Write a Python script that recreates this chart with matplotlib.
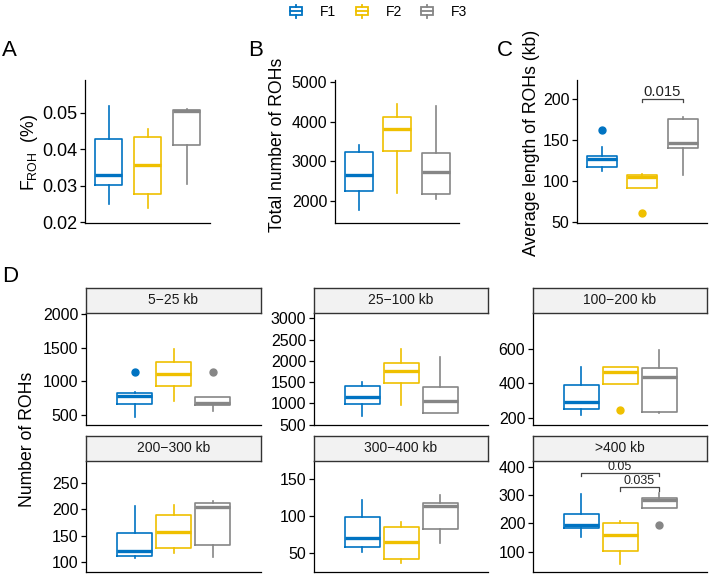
import matplotlib
matplotlib.use("Agg")
import matplotlib.pyplot as plt
from matplotlib.patches import Rectangle
from matplotlib.lines import Line2D
from matplotlib.legend_handler import HandlerBase

plt.rcParams['font.family'] = ['Liberation Sans', 'DejaVu Sans']
plt.rcParams['mathtext.fontset'] = 'custom'
plt.rcParams['mathtext.rm'] = 'Liberation Sans'
plt.rcParams['mathtext.it'] = 'Liberation Sans:italic'

# ---------------- data ----------------
groups = ["F1", "F2", "F3"]
colors = ["#0073C2", "#EFC000", "#868686"]

# five-number summaries per group: [whisker low, Q1, median, Q3, whisker high]
froh = [[0.0249, 0.0302, 0.0330, 0.0428, 0.0519],
        [0.0240, 0.0278, 0.0358, 0.0433, 0.0456],
        [0.0306, 0.0413, 0.0506, 0.0509, 0.0511]]
froh_out = [[], [], []]

total_roh = [[1770, 2250, 2650, 3230, 3405],
             [2200, 3260, 3830, 4134, 4450],
             [2045, 2170, 2730, 3220, 4400]]
total_out = [[], [], []]

avg_len = [[112, 117, 127, 130.5, 142],
           [92, 92, 105.3, 107, 108.5],
           [108, 140.5, 146, 175.5, 178.7]]
avg_out = [[162], [61], []]
avg_sig = [(1, 2, 200, "0.015")]

bins = ["5\u221225 kb", "25\u2212100 kb", "100\u2212200 kb",
        "200\u2212300 kb", "300\u2212400 kb", ">400 kb"]
n_5_25 = [[475, 660, 775, 830, 845],
          [700, 930, 1110, 1280, 1480],
          [560, 650, 670, 765, 765]]
out_5_25 = [[1140], [], [1135]]
n_25_100 = [[710, 990, 1150, 1397, 1500],
            [965, 1470, 1750, 1953, 2275],
            [780, 780, 1063, 1380, 2094]]
out_25_100 = [[], [], []]
n_100_200 = [[217, 254, 293, 390, 496],
             [396, 396, 468, 493, 495],
             [228, 237, 435, 490, 594]]
out_100_200 = [[], [248], []]
n_200_300 = [[107.5, 112, 122, 154.5, 206],
             [117, 127.5, 157.5, 189, 208],
             [111, 133.5, 204, 212.5, 216]]
out_200_300 = [[], [], []]
n_300_400 = [[52, 59, 70, 99, 121.5],
             [36.5, 43, 64.8, 86, 92.5],
             [63.4, 83, 113.4, 117, 128]]
out_300_400 = [[], [], []]
n_400 = [[153, 182, 194, 232, 302],
         [55.5, 103.5, 159, 200, 209],
         [253, 253, 284, 290, 308]]
out_400 = [[], [], [194]]
n_400_sig = [(0, 2, 379, "0.05"), (1, 2, 327, "0.035")]

# ---------------- layout ----------------
W, H = 709, 574
fig = plt.figure(figsize=(W / 100, H / 100), dpi=100)


def add_ax(l, t, r, b):
    return fig.add_axes([l / W, 1 - b / H, (r - l) / W, (b - t) / H])


def style(ax, ylim, yticks, ticklabels, fs):
    ax.set_ylim(*ylim)
    ax.set_yticks(yticks)
    ax.set_yticklabels(ticklabels, fontsize=fs, color="black")
    ax.set_xticks([])
    for s in ["top", "right"]:
        ax.spines[s].set_visible(False)
    for s in ["left", "bottom"]:
        ax.spines[s].set_color("black")
        ax.spines[s].set_linewidth(0.9)
    ax.tick_params(axis="y", length=3.5, width=0.9, pad=2, color="black")
    ax.patch.set_alpha(0)


def draw_boxes(ax, stats, outs, wpx, spacing_px, boxw_px):
    half = (wpx / 2) / spacing_px
    ax.set_xlim(2 - half, 2 + half)
    bw = boxw_px / spacing_px
    for i, (st, fl, c) in enumerate(zip(stats, outs, colors)):
        d = dict(whislo=st[0], q1=st[1], med=st[2], q3=st[3], whishi=st[4],
                 fliers=fl)
        ax.bxp([d], positions=[i + 1], widths=bw, showcaps=False,
               boxprops=dict(color=c, linewidth=1.2),
               whiskerprops=dict(color=c, linewidth=1.2),
               medianprops=dict(color=c, linewidth=2.4, solid_capstyle="butt"),
               flierprops=dict(marker="o", markerfacecolor=c,
                               markeredgecolor=c, markersize=5))


def draw_sig(ax, sigs, drop, fs):
    for a, b, y, lab in sigs:
        x1, x2 = a + 1, b + 1
        ax.plot([x1, x1, x2, x2], [y - drop, y, y, y - drop],
                color="#444444", lw=0.9, clip_on=False)
        ax.text((x1 + x2) / 2, y, lab, ha="center", va="bottom",
                fontsize=fs, color="#222222")


# --- panel A
axA = add_ax(85, 80, 210, 223)
draw_boxes(axA, froh, froh_out, 125, 39, 27)
style(axA, (0.0198, 0.0590), [0.02, 0.03, 0.04, 0.05],
      ["0.02", "0.03", "0.04", "0.05"], 13)
fig.text(30 / W, 1 - 152 / H, r"F$_{\mathregular{ROH}}$  (%)", rotation=90,
         ha="center", va="center", fontsize=12.7)

# --- panel B
axB = add_ax(335, 80, 459, 223)
draw_boxes(axB, total_roh, total_out, 124, 38.5, 28)
style(axB, (1440, 5060), [2000, 3000, 4000, 5000],
      ["2000", "3000", "4000", "5000"], 11.5)
fig.text(277 / W, 1 - 145 / H, "Total number of ROHs", rotation=90,
         ha="center", va="center", fontsize=12.7)

# --- panel C
axC = add_ax(577, 80, 707, 223)
draw_boxes(axC, avg_len, avg_out, 130, 40.5, 30)
style(axC, (48.8, 223.5), [50, 100, 150, 200], ["50", "100", "150", "200"], 11.5)
draw_sig(axC, avg_sig, 3, 10.7)
fig.text(532 / W, 1 - 143 / H, "Average length of ROHs (kb)", rotation=90,
         ha="center", va="center", fontsize=12.7)

# --- panel D
cols = [(86, 261), (314, 488), (533, 707)]
rows = [(313, 425), (461, 572)]
d_stats = [n_5_25, n_25_100, n_100_200, n_200_300, n_300_400, n_400]
d_outs = [out_5_25, out_25_100, out_100_200, out_200_300, out_300_400, out_400]
d_ylim = [(350, 2015), (490, 3125), (159, 809), (82, 291), (25, 174), (28, 420)]
d_ticks = [[500, 1000, 1500, 2000], [500, 1000, 1500, 2000, 2500, 3000],
           [200, 400, 600], [100, 150, 200, 250], [50, 100, 150],
           [100, 200, 300, 400]]
for k in range(6):
    r, c = divmod(k, 3)
    l, rr = cols[c]
    t, b = rows[r]
    ax = add_ax(l, t, rr, b)
    draw_boxes(ax, d_stats[k], d_outs[k], rr - l, 39, 35)
    style(ax, d_ylim[k], d_ticks[k], [str(v) for v in d_ticks[k]], 11.5)
    if k == 5:
        draw_sig(ax, n_400_sig, 12, 9)
    sax = add_ax(l, t - 25, rr, t)
    sax.set_xticks([])
    sax.set_yticks([])
    sax.set_facecolor("#F2F2F2")
    for s in sax.spines.values():
        s.set_color("#333333")
        s.set_linewidth(1.0)
    sax.text(0.5, 0.5, bins[k], ha="center", va="center", fontsize=10,
             color="#1A1A1A", transform=sax.transAxes)

fig.text(28 / W, 1 - 439 / H, "Number of ROHs", rotation=90,
         ha="center", va="center", fontsize=12.7)

# panel letters
for lab, x, y in [("A", 9, 50), ("B", 256, 50), ("C", 505, 50), ("D", 10, 276)]:
    fig.text(x / W, 1 - y / H, lab, ha="center", va="center", fontsize=16)


# --- legend with box glyphs
class BoxHandler(HandlerBase):
    def create_artists(self, legend, orig_handle, xdescent, ydescent,
                       width, height, fontsize, trans):
        c = orig_handle.get_color()
        cx = width / 2 - xdescent
        bw = width
        y0 = -ydescent
        bot, top = y0 + height * 0.08, y0 + height * 0.92
        rect = Rectangle((cx - bw / 2, bot), bw, top - bot, fill=False,
                         ec=c, lw=1.3, transform=trans)
        med = Line2D([cx - bw / 2, cx + bw / 2], [(bot + top) / 2] * 2,
                     color=c, lw=1.3, transform=trans)
        w1 = Line2D([cx, cx], [y0 - height * 0.15, bot], color=c, lw=1.3,
                    transform=trans)
        w2 = Line2D([cx, cx], [top, y0 + height * 1.15], color=c, lw=1.3,
                    transform=trans)
        return [rect, med, w1, w2]


handles = [Line2D([], [], color=c) for c in colors]
fig.legend(handles, groups, handler_map={Line2D: BoxHandler()},
           loc="center", bbox_to_anchor=(379 / W, 1 - 12 / H), ncol=3,
           frameon=False, fontsize=10, handlelength=0.85, handleheight=0.75,
           handletextpad=1.3, columnspacing=1.4, borderpad=0)

fig.savefig("out.png", dpi=100)
